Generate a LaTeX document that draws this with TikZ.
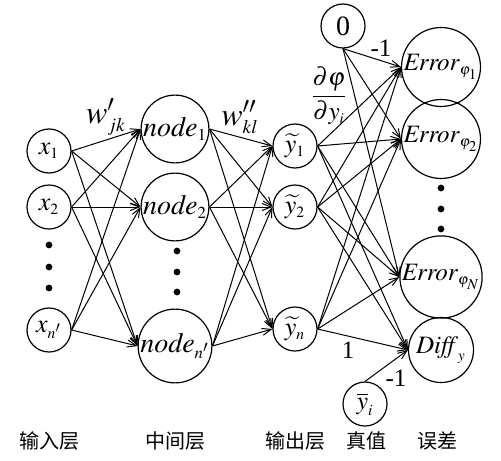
\documentclass[tikz,border=0pt]{standalone}
\usepackage{amsmath}
\usepackage{mathptmx}
\usepackage{fontspec}
\setmainfont{Liberation Serif}
\newfontfamily\cjk{Noto Sans CJK SC}
\usepackage{tikz}
\usetikzlibrary{arrows.meta}
\newcommand{\tsub}[1]{_{\scriptscriptstyle #1}}
\tikzset{
  inunit/.style={circle, draw, line width=0.6pt, inner sep=0pt,
                 minimum size=22pt, font=\fontsize{13}{13}\selectfont},
  hidunit/.style={circle, draw, line width=0.6pt, inner sep=0pt,
                  minimum size=31.5pt, font=\fontsize{14}{14}\selectfont},
  errunit/.style={circle, draw, line width=0.6pt, inner sep=0pt,
                  minimum size=34.5pt, font=\fontsize{12.5}{12.5}\selectfont},
  arrow/.style={-{Straight Barb[length=4.5pt,width=3.5pt]}, line width=0.5pt},
  layer/.style={font=\cjk\fontsize{10}{10}\selectfont},
  wlabel/.style={font=\fontsize{12.5}{12.5}\selectfont},
}

\begin{document}
\begin{tikzpicture}[x=0.5pt, y=-0.5pt]
  \useasboundingbox (0,0) rectangle (501,460);
  % input layer
  \node[inunit] (x1) at (49,151) {$x\tsub{1}$};
  \node[inunit] (x2) at (49,207) {$x\tsub{2}$};
  \node[inunit] (xn) at (49,330) {$x\tsub{n'}$};
  % hidden layer
  \node[hidunit] (h1) at (175,129) {$\mathit{node}\tsub{1}$};
  \node[hidunit] (h2) at (175,207) {$\mathit{node}\tsub{2}$};
  \node[hidunit] (hn) at (175,346) {$\mathit{node}\tsub{n'}$};
  % output layer
  \node[inunit] (y1) at (295,146) {$\widetilde{y}\tsub{1}$};
  \node[inunit] (y2) at (295,207) {$\widetilde{y}\tsub{2}$};
  \node[inunit] (yn) at (295,329) {$\widetilde{y}\tsub{n}$};
  % targets
  \node[inunit, font=\fontsize{14}{14}\selectfont] (zero) at (343,26) {0};
  \node[inunit] (ybar) at (365,404) {$\overline{y}\tsub{i}$};
  % errors
  \node[errunit] (e1) at (441,67)  {$\mathit{Error}\tsub{\varphi_1}$};
  \node[errunit] (e2) at (441,139) {$\mathit{Error}\tsub{\varphi_2}$};
  \node[errunit] (eN) at (441,277) {$\mathit{Error}\tsub{\varphi_N}$};
  \node[errunit, minimum size=32.5pt] (diff) at (441,350) {$\mathit{Diff}\tsub{y}$};

  % dots
  \foreach \yy in {245,267,288} \fill (49,\yy) circle[radius=1.7pt];
  \foreach \yy in {251,272,292} \fill (177,\yy) circle[radius=1.7pt];
  \foreach \yy in {188,209,229} \fill (441,\yy) circle[radius=1.7pt];

  % connections
  \foreach \a in {x1,x2,xn}
    \foreach \b in {h1,h2,hn}
      \draw[arrow] (\a.east) -- (\b.west);
  \foreach \a in {h1,h2,hn}
    \foreach \b in {y1,y2,yn}
      \draw[arrow] (\a.east) -- (\b.west);
  \foreach \a in {y1,y2,yn}
    \foreach \b in {e1,e2,eN,diff}
      \draw[arrow] (\a.east) -- (\b.west);
  \foreach \b in {e1,e2,eN}
    \draw[arrow] (zero.south) -- (\b.west);
  \draw[arrow] (ybar.north) -- (diff.west);

  % weights
  \node[font=\fontsize{16}{16}\selectfont] (w1) at (106,117) {$w'\tsub{jk}$};
  \node[font=\fontsize{16}{16}\selectfont] (w2) at (240,117) {$w''\tsub{kl}$};
  \node[font=\fontsize{12.5}{12.5}\selectfont] (dphi) at (329,96)
    {$\dfrac{\partial\varphi}{\partial y\tsub{i}}$};
  \node[wlabel] (m1a) at (381,48)  {-1};
  \node[wlabel] (one) at (348,350) {1};
  \node[wlabel] (m1b) at (396,378) {-1};

  % layer names
  \node[layer] (l1) at (49,441)  {输入层};
  \node[layer] (l2) at (175,441) {中间层};
  \node[layer] (l3) at (295,441) {输出层};
  \node[layer] (l4) at (366,441) {真值};
  \node[layer] (l5) at (437,441) {误差};
\end{tikzpicture}
\end{document}
